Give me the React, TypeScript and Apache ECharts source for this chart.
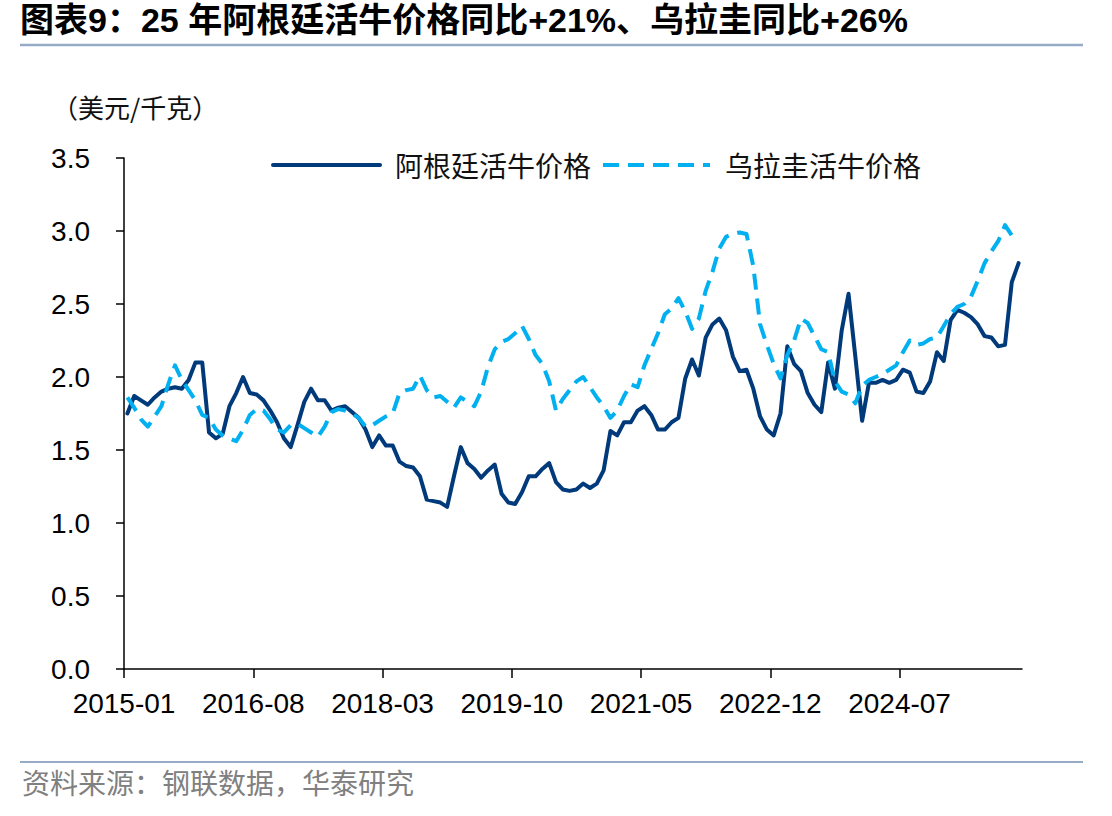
import React, { useEffect, useRef } from "react";
import * as echarts from "echarts";

// Monthly categories, 2015-01 .. 2025-12
const months: string[] = [];
for (let y = 2015; y <= 2025; y++) {
  for (let m = 1; m <= 12; m++) months.push(`${y}-${String(m).padStart(2, "0")}`);
}

// Month indices that carry a tick and a label on the time axis
const xTickIndex: number[] = [0, 19, 38, 57, 76, 95, 114];

// 阿根廷活牛价格 (美元/千克)
const argentina: number[] = [
  1.75, 1.87, 1.84, 1.81, 1.86, 1.9, 1.92, 1.93, 1.92, 1.98, 2.1, 2.1,
  1.62, 1.58, 1.61, 1.8, 1.89, 2.0, 1.89, 1.88, 1.84, 1.77, 1.69, 1.58,
  1.52, 1.67, 1.83, 1.92, 1.84, 1.84, 1.77, 1.79, 1.8, 1.76, 1.72, 1.64,
  1.52, 1.6, 1.53, 1.53, 1.42, 1.39, 1.38, 1.32, 1.16, 1.15, 1.14, 1.11,
  1.32, 1.52, 1.41, 1.37, 1.31, 1.36, 1.4, 1.2, 1.14, 1.13, 1.21, 1.32,
  1.32, 1.37, 1.41, 1.28, 1.23, 1.22, 1.23, 1.27, 1.24, 1.27, 1.36, 1.63,
  1.6, 1.69, 1.69, 1.77, 1.8, 1.74, 1.64, 1.64, 1.69, 1.72, 1.99, 2.12,
  2.01, 2.27, 2.36, 2.4, 2.32, 2.14, 2.04, 2.05, 1.92, 1.73, 1.64, 1.6,
  1.75, 2.21, 2.09, 2.04, 1.89, 1.81, 1.76, 2.1, 1.92, 2.32, 2.57, 2.14,
  1.7, 1.96, 1.96, 1.98, 1.96, 1.98, 2.05, 2.03, 1.9, 1.89, 1.97, 2.17,
  2.11, 2.39, 2.46, 2.44, 2.41, 2.36, 2.28, 2.27, 2.21, 2.22, 2.65, 2.78,
];

// 乌拉圭活牛价格 (美元/千克)
const uruguay: (number | null)[] = [
  1.86, 1.79, 1.71, 1.66, 1.73, 1.8, 1.95, 2.08, 1.98, 1.91, 1.84, 1.74,
  1.72, 1.64, 1.6, 1.58, 1.56, 1.64, 1.74, 1.78, 1.77, 1.71, 1.64, 1.62,
  1.67, 1.68, 1.65, 1.62, 1.59, 1.66, 1.76, 1.78, 1.77, 1.75, 1.72, 1.66,
  1.67, 1.7, 1.73, 1.75, 1.89, 1.91, 1.92, 2.01, 1.91, 1.86, 1.87, 1.83,
  1.79, 1.86, 1.83, 1.8, 1.9, 2.07, 2.19, 2.24, 2.26, 2.3, 2.35, 2.26,
  2.15, 2.09, 1.97, 1.77, 1.85, 1.91, 1.97, 2.0, 1.93, 1.86, 1.8, 1.72,
  1.77, 1.87, 1.95, 1.93, 2.08, 2.19, 2.3, 2.43, 2.47, 2.54, 2.45, 2.33,
  2.4, 2.59, 2.72, 2.88, 2.96, 2.98, 2.99, 2.98, 2.76, 2.36, 2.22, 2.09,
  1.99, 2.15, 2.25, 2.4, 2.37, 2.28, 2.19, 2.17, 1.97, 1.9, 1.88, 1.82,
  1.94, 1.98, 2.0, 2.02, 2.05, 2.08, 2.17, 2.25, 2.22, 2.23, 2.26, 2.27,
  2.35, 2.43, 2.48, 2.5, 2.55, 2.66, 2.78, 2.86, 2.93, 3.04, 2.97, null,
];

const seriesNames = ["阿根廷活牛价格", "乌拉圭活牛价格"];
const yTicks = { min: 0, max: 3.5, interval: 0.5 };

const TITLE = "图表9：25 年阿根廷活牛价格同比+21%、乌拉圭同比+26%";
const UNIT = "（美元/千克）";
const SOURCE = "资料来源：钢联数据，华泰研究";

const NAVY = "#003A7A";
const SKY = "#00B0F0";
const RULE = "#95ABC6";
const LATIN = "'Liberation Sans', Arial, 'Noto Sans CJK SC', sans-serif";
const CJK = "'Noto Sans CJK SC', sans-serif";

// Each monthly observation sits in the middle of its month on a month-count axis
const toPoints = (vals: (number | null)[]) =>
  vals.map((v, i) => [i + 0.5, v] as [number, number | null]);

export default function App() {
  const ref = useRef<HTMLDivElement>(null);

  useEffect(() => {
    if (!ref.current) return;
    const chart = echarts.init(ref.current, undefined, { renderer: "svg" });
    chart.setOption({
      animation: false,
      backgroundColor: "#ffffff",
      grid: { left: 124, right: 90, top: 158, bottom: 147, containLabel: false },
      graphic: [
        {
          type: "text",
          left: 20,
          top: 3,
          style: { text: TITLE, font: `bold 34px ${LATIN}`, fill: "#000" },
        },
        {
          type: "line",
          shape: { x1: 20, y1: 45, x2: 1083, y2: 45 },
          style: { stroke: RULE, lineWidth: 2.5 },
        },
        {
          type: "text",
          left: 52,
          top: 93,
          style: { text: UNIT, font: `26px ${CJK}`, fill: "#111" },
        },
        {
          type: "line",
          shape: { x1: 20, y1: 762, x2: 1083, y2: 762 },
          style: { stroke: RULE, lineWidth: 2 },
        },
        {
          type: "text",
          left: 22,
          top: 768,
          style: { text: SOURCE, font: `28px ${CJK}`, fill: "#808080" },
        },
      ],
      legend: {
        left: 266,
        top: 146,
        itemWidth: 107,
        itemHeight: 28,
        itemGap: 10,
        itemStyle: { opacity: 0 },
        lineStyle: { width: 4 },
        textStyle: { fontFamily: CJK, fontSize: 28, color: "#111", padding: [0, 0, 0, 10] },
        data: seriesNames,
      },
      xAxis: {
        type: "value",
        min: 0,
        max: months.length,
        splitLine: { show: false },
        axisLine: { onZero: false, lineStyle: { color: "#000", width: 1.5 } },
        axisTick: {
          show: true,
          customValues: xTickIndex,
          length: 9,
          lineStyle: { color: "#000", width: 1.5 },
        },
        axisLabel: {
          customValues: xTickIndex,
          margin: 20,
          color: "#000",
          fontFamily: LATIN,
          fontSize: 28,
          formatter: (v: number) => months[Math.round(v)] ?? "",
        },
      },
      yAxis: {
        type: "value",
        min: yTicks.min,
        max: yTicks.max,
        interval: yTicks.interval,
        splitLine: { show: false },
        axisLine: { show: true, lineStyle: { color: "#000", width: 1.5 } },
        axisTick: { show: true, length: 8, lineStyle: { color: "#000", width: 1.5 } },
        axisLabel: {
          margin: 34,
          color: "#000",
          fontFamily: LATIN,
          fontSize: 28,
          formatter: (v: number) => v.toFixed(1),
        },
      },
      series: [
        {
          name: seriesNames[0],
          type: "line",
          data: toPoints(argentina),
          symbol: "none",
          lineStyle: { color: NAVY, width: 4, join: "round", cap: "round" },
          itemStyle: { color: NAVY },
        },
        {
          name: seriesNames[1],
          type: "line",
          data: toPoints(uruguay),
          symbol: "none",
          lineStyle: { color: SKY, width: 4, type: [16, 9], join: "round" },
          itemStyle: { color: SKY },
        },
      ],
    });
    return () => chart.dispose();
  }, []);

  return (
    <div
      ref={ref}
      style={{ position: "fixed", left: 0, top: 0, width: 1112, height: 816, background: "#fff" }}
    />
  );
}
